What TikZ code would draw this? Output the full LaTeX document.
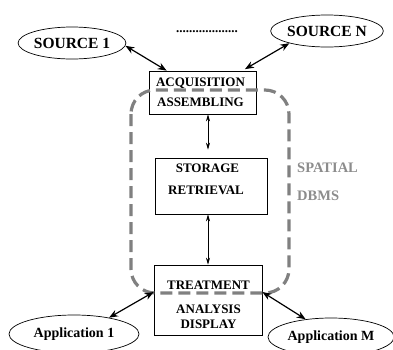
\documentclass[tikz,border=0pt]{standalone}
\usepackage{fontspec}
\setmainfont{Liberation Serif}
\usetikzlibrary{shapes.geometric, arrows.meta}

\tikzset{
    srcnode/.style={draw, ellipse, inner sep=0pt, line width=0.7pt, font=\fontsize{15.5}{18}\selectfont\bfseries},
    appnode/.style={draw, ellipse, inner sep=0pt, line width=0.7pt, font=\fontsize{14}{16}\selectfont\bfseries},
    stepbox/.style={draw, rectangle, inner sep=0pt, line width=0.7pt},
    boxtext/.style={anchor=base, inner sep=0pt, font=\fontsize{13}{15}\selectfont\bfseries},
    dbmstext/.style={anchor=base west, inner sep=0pt, text=black!45, font=\fontsize{14.5}{16}\selectfont\bfseries},
    bigarrow/.style={{Stealth[length=9pt,width=7pt]}-{Stealth[length=9pt,width=7pt]}, line width=1.2pt},
    thinarrow/.style={{Stealth[length=7pt,width=4pt]}-{Stealth[length=7pt,width=4pt]}, line width=0.7pt},
}

\begin{document}
\begin{tikzpicture}[x=1pt, y=-1pt]
    \useasboundingbox (0, 0) rectangle (393, 349);
    % sources
    \node[srcnode, minimum width=104, minimum height=32] (src1) at (72, 43) {SOURCE 1};
    \node[srcnode, minimum width=98, minimum height=32] (srcN) at (327, 31) {SOURCE N};
    \node[inner sep=0pt, font=\fontsize{13}{15}\selectfont\bfseries] (dots) at (207, 32) {...................};
    % boxes
    \node[stepbox, minimum width=107, minimum height=43] (acq) at (202.5, 92.5) {};
    \node[boxtext] (acqA) at (200.5, 86) {ACQUISITION};
    \node[boxtext] (acqB) at (200.5, 106) {ASSEMBLING};
    \node[stepbox, minimum width=112, minimum height=56] (stor) at (211, 186) {};
    \node[boxtext] (storA) at (207.5, 172) {STORAGE};
    \node[boxtext] (storB) at (206, 194) {RETRIEVAL};
    \node[stepbox, minimum width=108, minimum height=70] (treat) at (208, 300) {};
    \node[boxtext] (treatA) at (208.5, 289) {TREATMENT};
    \node[boxtext] (treatB) at (208.5, 313) {ANALYSIS};
    \node[boxtext] (treatC) at (208.5, 328) {DISPLAY};
    % applications
    \node[appnode, minimum width=130, minimum height=38] (app1) at (74, 334) {Application 1};
    \node[appnode, minimum width=126, minimum height=38] (appM) at (331, 337) {Application M};
    % dbms
    \node[dbmstext] (spatial) at (297, 172) {SPATIAL};
    \node[dbmstext] (dbms) at (297, 200) {DBMS};
    \draw[black!50, line width=3.2pt, dash pattern=on 12pt off 6pt, rounded corners=24pt]
        (131, 90) rectangle (289, 293);
    % connectors
    \draw[bigarrow] (src1.-3) -- ([xshift=18pt]acq.north west);
    \draw[bigarrow, shorten >=3pt] (srcN.198) -- ([xshift=-14pt]acq.north east);
    \draw[thinarrow, shorten >=8pt] (acq.south -| treat) -- (stor.north -| treat);
    \draw[thinarrow] (stor.south -| treat) -- (treat.north);
    \draw[bigarrow] ([yshift=8pt]treat.west) -- (app1.25);
    \draw[bigarrow] ([yshift=8pt]treat.east) -- (appM.145);
\end{tikzpicture}
\end{document}
